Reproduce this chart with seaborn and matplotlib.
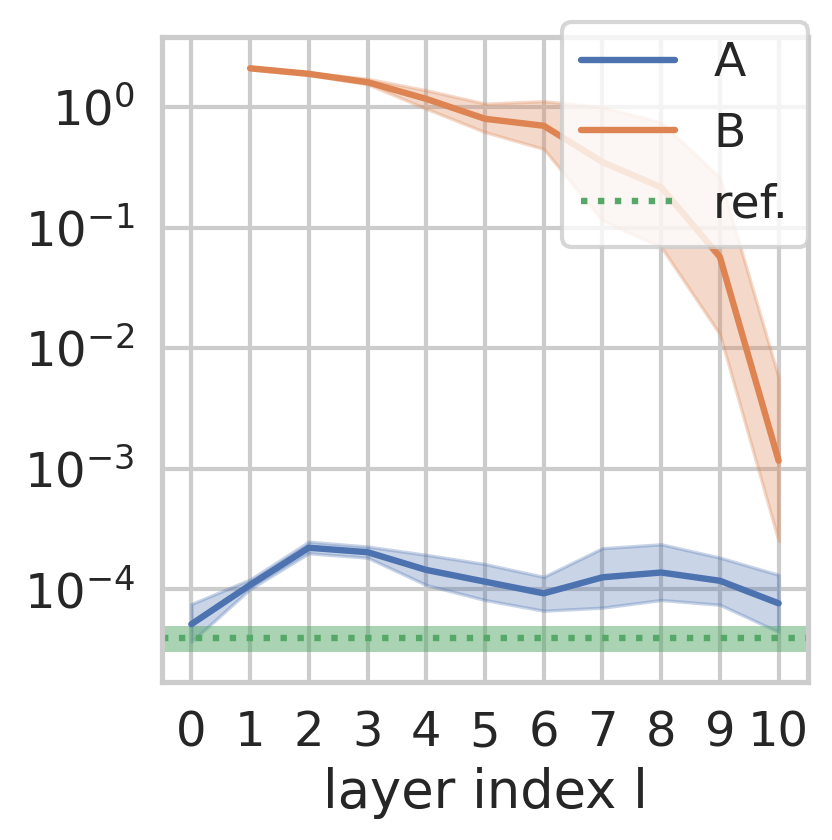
import numpy as np
import matplotlib
matplotlib.use('Agg')
import matplotlib.pyplot as plt
import seaborn as sns

# layer indices
layers = np.arange(11)
layers_b = np.arange(1, 11)

# series A (mean and band)
a_mean = [5.1e-5, 1.08e-4, 2.2e-4, 2.02e-4, 1.44e-4, 1.15e-4, 9.2e-5, 1.25e-4, 1.37e-4, 1.17e-4, 7.6e-5]
a_low = [3.65e-5, 1.0e-4, 1.98e-4, 1.82e-4, 1.08e-4, 8.1e-5, 6.6e-5, 7.0e-5, 8.1e-5, 7.4e-5, 4.4e-5]
a_high = [7.5e-5, 1.2e-4, 2.47e-4, 2.25e-4, 1.92e-4, 1.61e-4, 1.26e-4, 2.18e-4, 2.35e-4, 1.82e-4, 1.31e-4]

# series B (starts at layer 1)
b_mean = [2.1, 1.89, 1.61, 1.17, 0.80, 0.70, 0.35, 0.216, 0.057, 0.00116]
b_low = [2.06, 1.85, 1.55, 0.97, 0.62, 0.45, 0.114, 0.069, 0.013, 2.5e-4]
b_high = [2.14, 1.93, 1.72, 1.38, 1.07, 1.12, 1.0, 0.75, 0.26, 0.0057]

# reference level and its band
ref_value = 3.9e-5
ref_low = 3.0e-5
ref_high = 4.9e-5

sns.set_theme(style="whitegrid", context="talk")
palette = sns.color_palette("deep")

DPI = 200
fig = plt.figure(figsize=(832 / DPI, 840 / DPI), dpi=DPI)
ax = fig.add_axes([162 / 832, 1 - 682 / 840, 646 / 832, 645 / 840])

lw = 2.3
sns.lineplot(x=layers, y=a_mean, ax=ax, color=palette[0], linewidth=lw, label="A")
ax.fill_between(layers, a_low, a_high, color=palette[0], alpha=0.3, linewidth=1.2)
sns.lineplot(x=layers_b, y=b_mean, ax=ax, color=palette[1], linewidth=lw, label="B")
ax.fill_between(layers_b, b_low, b_high, color=palette[1], alpha=0.3, linewidth=1.2)

ax.axhline(ref_value, color=palette[2], linestyle=":", linewidth=lw, label="ref.")
ax.axhspan(ref_low, ref_high, color=palette[2], alpha=0.5, linewidth=0)

ax.set_yscale("log")
ax.set_ylim(1.69e-5, 3.82)
ax.set_xlim(-0.5, 10.5)
ax.set_xticks(layers)
ax.set_xlabel("layer index l", fontsize=19)
ax.set_ylabel("")
ax.tick_params(axis="both", labelsize=17.3, length=0, pad=9.8)

ax.legend(loc="upper right", bbox_to_anchor=(1.0, 1.023), borderaxespad=0,
          fontsize=17.0, labelspacing=0.55, framealpha=0.8)

fig.savefig("out.png", dpi=DPI)
